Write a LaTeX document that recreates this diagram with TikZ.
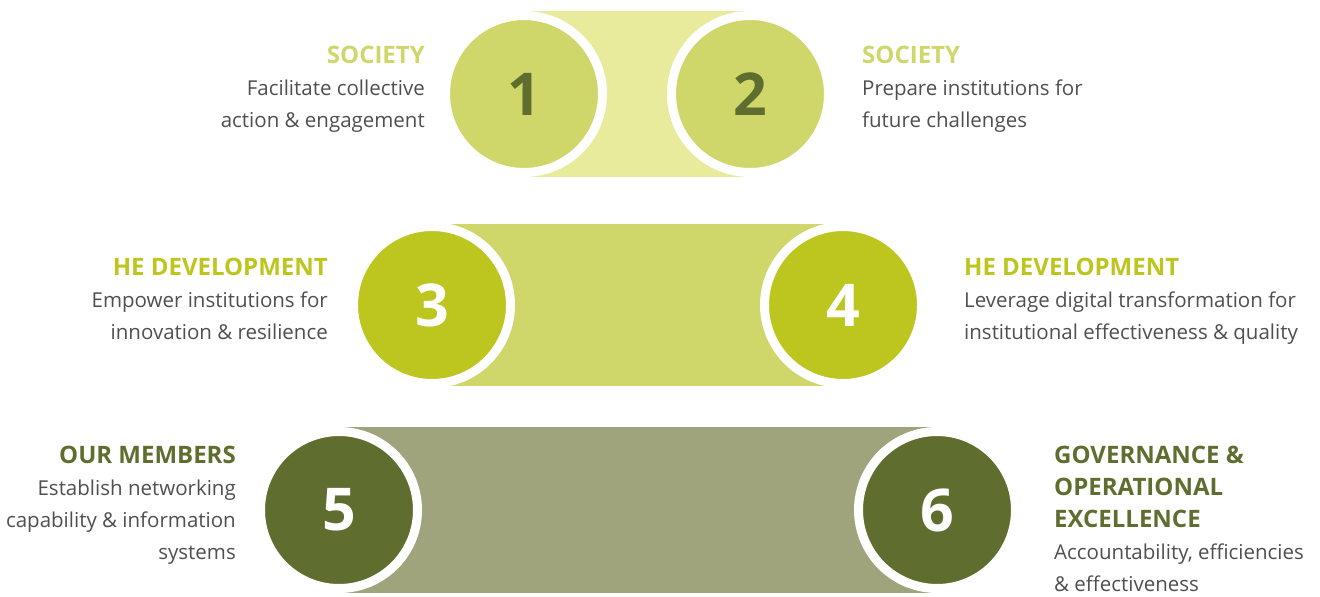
\documentclass[tikz,border=0pt]{standalone}
\usepackage{fontspec}
\setmainfont{Open Sans}
\usepackage{tikz}
\usetikzlibrary{positioning,backgrounds}

\definecolor{palelime}{HTML}{E8EB9C}
\definecolor{lime}{HTML}{CFD66A}
\definecolor{brightlime}{HTML}{BDC61F}
\definecolor{sage}{HTML}{A0A47C}
\definecolor{olive}{HTML}{5F6E2E}
\definecolor{bodygrey}{HTML}{4F4F4F}

\newcommand\rowhead[2]{{\color{#1}\fontsize{24}{32}\selectfont\bfseries #2}}

\begin{document}
\begin{tikzpicture}[
      x=1pt, y=-1pt,
      every node/.style={
        inner sep=0pt
      },
      num/.style={circle, draw=white, line width=9pt, minimum size=157pt,
        font=\fontsize{59}{59}\selectfont\bfseries},
      desc/.style={align=#1, text=bodygrey,
        font=\fontsize{20.5}{32}\selectfont}
    ]
    \useasboundingbox (0,0) rectangle (1320,597);

    % Row 1 (text nodes sit on the baseline of their last line)
    \node (n1) [num, fill=lime, text=olive] at (524,94) {1};
    \node (n2) [num, fill=lime, text=olive] at (750,94) {2};
    \node (t1) [desc=right, anchor=base east] at (425,127)
      {\rowhead{lime}{SOCIETY}\\Facilitate collective\\action \& engagement};
    \node (t2) [desc=left, anchor=base west] at (862,127)
      {\rowhead{lime}{SOCIETY}\\Prepare institutions for\\future challenges};

    % Row 2
    \node (n3) [num, fill=brightlime, text=white] at (432,305) {3};
    \node (n4) [num, fill=brightlime, text=white] at (843,305) {4};
    \node (t3) [desc=right, anchor=base east] at (328,339)
      {\rowhead{brightlime}{HE DEVELOPMENT}\\Empower institutions for\\innovation \& resilience};
    \node (t4) [desc=left, anchor=base west] at (964,339)
      {\rowhead{brightlime}{HE DEVELOPMENT}\\Leverage digital transformation for\\institutional effectiveness \& quality};

    % Row 3
    \node (n5) [num, fill=olive, text=white] at (339,510) {5};
    \node (n6) [num, fill=olive, text=white] at (937,510) {6};
    \node (t5) [desc=right, anchor=base east] at (236,559)
      {\rowhead{olive}{OUR MEMBERS}\\Establish networking\\capability \& information\\systems};
    \node (t6) [desc=left, anchor=base west] at (1054,591)
      {\rowhead{olive}{GOVERNANCE \&}\\\rowhead{olive}{OPERATIONAL}\\\rowhead{olive}{EXCELLENCE}\\Accountability, efficiencies\\\& effectiveness};

    % Bands behind each pair
    \begin{pgfonlayer}{background}
      \fill[palelime] (n1.center |- n1.north) rectangle (n2.center |- n2.south);
      \fill[lime] ([yshift=-2pt]n3.center |- n3.north) rectangle ([yshift=2pt]n4.center |- n4.south);
      \fill[sage] (n5.center |- n5.north) rectangle (n6.center |- n6.south);
    \end{pgfonlayer}
  \end{tikzpicture}
\end{document}
